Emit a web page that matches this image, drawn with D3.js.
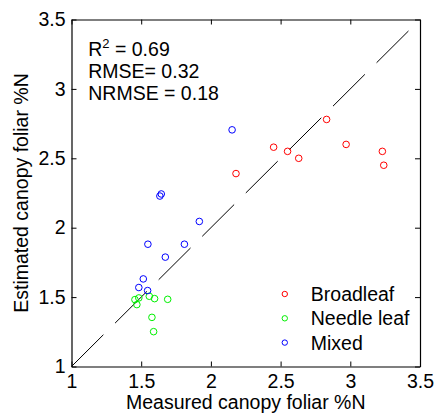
<!DOCTYPE html>
<html>
<head>
<meta charset="utf-8">
<script src="https://cdn.jsdelivr.net/npm/d3@7"></script>
<style>
  body { margin: 0; background: #fff; }
  text { font-family: "Liberation Sans", Arial, sans-serif; }
</style>
</head>
<body>
<div id="chart"></div>
<script>
// data
const broadleafX = [2.18, 2.45, 2.55, 2.63, 2.83, 2.97, 3.23, 3.24]
const broadleafY = [2.39, 2.58, 2.55, 2.50, 2.78, 2.60, 2.55, 2.45]
const needleX = [1.455, 1.483, 1.469, 1.558, 1.596, 1.69, 1.577, 1.589]
const needleY = [1.482, 1.494, 1.446, 1.506, 1.489, 1.484, 1.354, 1.251]
const mixedX = [2.152, 1.644, 1.634, 1.917, 1.548, 1.81, 1.673, 1.515, 1.483, 1.546]
const mixedY = [2.705, 2.243, 2.228, 2.045, 1.881, 1.881, 1.788, 1.631, 1.569, 1.547]
const groups = ["Broadleaf", "Needle leaf", "Mixed"]
const groupColors = ["#ff0000", "#00f000", "#0000ff"]
const ticks = [1, 1.5, 2, 2.5, 3, 3.5]
const oneToOne = [1, 3.42]
const stats = ["= 0.69", "RMSE= 0.32", "NRMSE = 0.18"]

const dims = {
  width: 435, height: 415,
  margin: { top: 19.5, right: 15, bottom: 48.5, left: 71.5 }
}
dims.boundedWidth = dims.width - dims.margin.left - dims.margin.right
dims.boundedHeight = dims.height - dims.margin.top - dims.margin.bottom

const svg = d3.select("#chart").append("svg")
  .attr("width", dims.width)
  .attr("height", dims.height)
const g = svg.append("g")
  .attr("transform", `translate(${dims.margin.left},${dims.margin.top})`)

const x = d3.scaleLinear().domain([1, 3.5]).range([0, dims.boundedWidth])
const y = d3.scaleLinear().domain([1, 3.5]).range([dims.boundedHeight, 0])
const color = d3.scaleOrdinal().domain(groups).range(groupColors)

const fontSize = "19.5px"

// axes, ticks pointing inward on all four sides
const bottomAxis = g.append("g").attr("transform", `translate(0,${dims.boundedHeight})`)
  .call(d3.axisBottom(x).tickValues(ticks).tickSizeInner(-5).tickSizeOuter(0).tickPadding(8).tickFormat(d3.format("")))
const topAxis = g.append("g")
  .call(d3.axisTop(x).tickValues(ticks).tickSizeInner(-5).tickSizeOuter(0).tickFormat(""))
const leftAxis = g.append("g")
  .call(d3.axisLeft(y).tickValues(ticks).tickSizeInner(-5).tickSizeOuter(0).tickPadding(6).tickFormat(d3.format("")))
const rightAxis = g.append("g").attr("transform", `translate(${dims.boundedWidth},0)`)
  .call(d3.axisRight(y).tickValues(ticks).tickSizeInner(-5).tickSizeOuter(0).tickFormat(""))

g.selectAll(".domain").attr("stroke", "#000").attr("stroke-width", 1.2)
g.selectAll(".tick line").attr("stroke", "#000").attr("stroke-width", 1)
g.selectAll(".tick text").attr("fill", "#000").style("font-size", fontSize)
  .style("font-family", "'Liberation Sans', Arial, sans-serif")

// 1:1 line
g.append("line")
  .attr("x1", x(oneToOne[0])).attr("y1", y(oneToOne[0]))
  .attr("x2", x(oneToOne[1])).attr("y2", y(oneToOne[1]))
  .attr("stroke", "#000").attr("stroke-width", 1)
  .attr("stroke-dasharray", "45,16.5")

// points
const series = [
  { name: groups[0], xs: broadleafX, ys: broadleafY },
  { name: groups[1], xs: needleX, ys: needleY },
  { name: groups[2], xs: mixedX, ys: mixedY }
]
series.forEach(function(s) {
  const pts = s.xs.map((v, i) => [v, s.ys[i]])
  g.selectAll(null).data(pts).enter().append("circle")
    .attr("cx", d => x(d[0]))
    .attr("cy", d => y(d[1]))
    .attr("r", 3.3)
    .attr("fill", "none")
    .attr("stroke", color(s.name))
    .attr("stroke-width", 1)
})

// stats text
const statsG = g.append("g").attr("transform", `translate(${x(1.12)},0)`)
const r2 = statsG.append("text").attr("y", 36.5).style("font-size", fontSize)
r2.append("tspan").text("R")
r2.append("tspan").attr("dy", -8).style("font-size", "13px").text("2")
r2.append("tspan").attr("dy", 8).text(" " + stats[0])
statsG.append("text").attr("y", 58.5).style("font-size", fontSize).text(stats[1])
statsG.append("text").attr("y", 80.5).style("font-size", fontSize).text(stats[2])

// legend
const legend = g.selectAll(".legend").data(groups).enter().append("g")
  .attr("class", "legend")
  .attr("transform", (d, i) => `translate(${x(2.53)},${274.5 + i * 24.3})`)
legend.append("circle").attr("r", 2.7).attr("fill", "none")
  .attr("stroke", d => color(d)).attr("stroke-width", 1)
legend.append("text").attr("x", 26).attr("dy", "0.36em")
  .style("font-size", fontSize).text(d => d)

// axis labels
svg.append("text")
  .attr("x", dims.margin.left + dims.boundedWidth / 2)
  .attr("y", 409)
  .attr("text-anchor", "middle")
  .style("font-size", fontSize)
  .text("Measured canopy foliar %N")

svg.append("text")
  .attr("transform", `translate(28,${dims.margin.top + dims.boundedHeight / 2}) rotate(-90)`)
  .attr("text-anchor", "middle")
  .style("font-size", fontSize)
  .text("Estimated canopy foliar %N")
</script>
</body>
</html>
